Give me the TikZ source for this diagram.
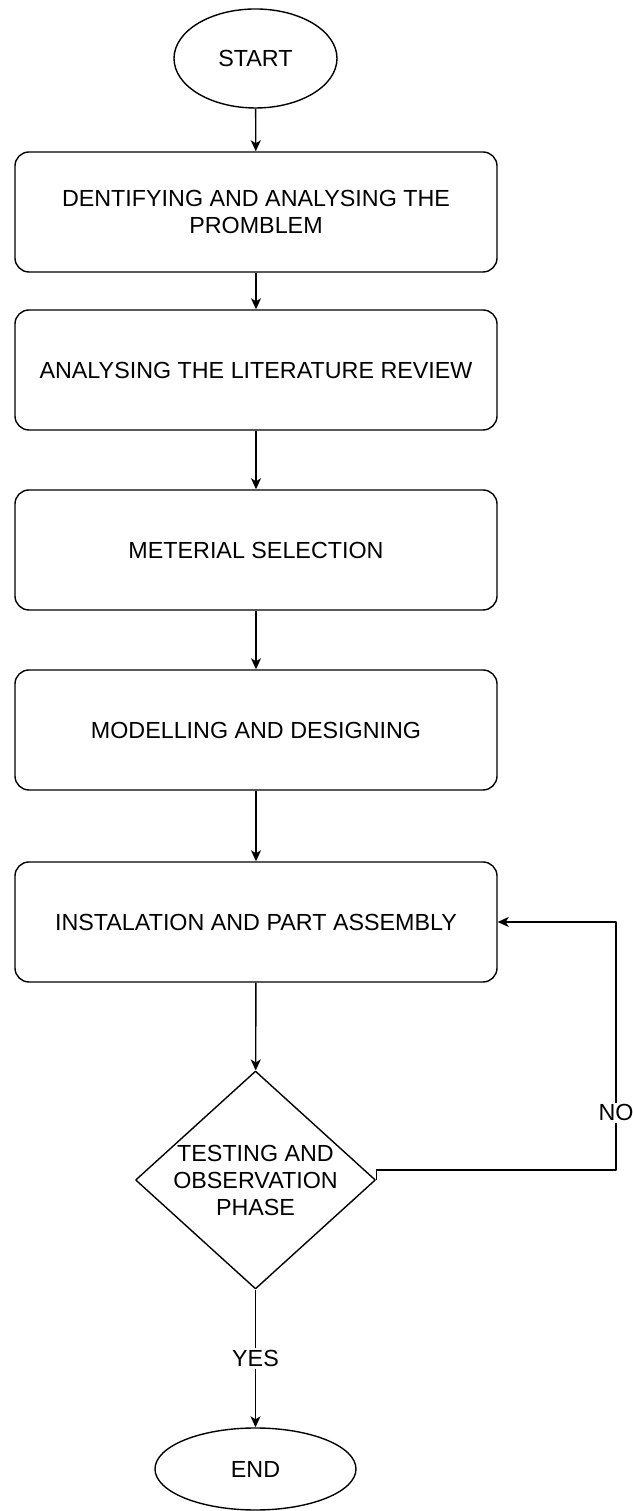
\documentclass[tikz,border=0pt]{standalone}
\usepackage{fontspec}
\setmainfont{Liberation Sans}
\usetikzlibrary{shapes.geometric,arrows.meta}

\begin{document}
\begin{tikzpicture}[>={Stealth[length=11bp,width=10bp,inset=3bp]},line join=bevel,line width=1.4bp,
  every node/.style={font=\fontsize{23.3bp}{27bp}\selectfont},
  terminal/.style={draw,ellipse,inner sep=0pt},
  stepbox/.style={draw,rounded corners=14bp,minimum width=482bp,minimum height=120bp,align=center,inner sep=0pt},
  decision/.style={draw,diamond,minimum width=240bp,minimum height=218bp,inner sep=0pt},
  edgelabel/.style={fill=white,inner sep=2bp},]
%%
\useasboundingbox (0bp,0bp) rectangle (633bp,1511bp);
\node (node_0) at (255.5bp,1452.5bp) [terminal,minimum width=163bp,minimum height=99bp] {START};
  \node (node_1) at (256bp,1299bp) [stepbox] {DENTIFYING AND ANALYSING THE\\PROMBLEM};
  \node (node_2) at (256bp,1141bp) [stepbox] {ANALYSING THE LITERATURE REVIEW};
  \node (node_3) at (256bp,961bp) [stepbox] {METERIAL SELECTION};
  \node (node_4) at (256bp,781bp) [stepbox] {MODELLING AND DESIGNING};
  \node (node_5) at (256bp,589bp) [stepbox] {INSTALATION AND PART ASSEMBLY};
  \node (node_6) at (255.5bp,331bp) [decision,label={[align=center]center:TESTING AND\\OBSERVATION\\PHASE}] {};
  \node (node_7) at (255.5bp,42bp) [terminal,minimum width=201bp,minimum height=82bp] {END};
%
\draw [->] (node_0) -- (node_1);
  \draw [->] (node_1) -- (node_2);
  \draw [->] (node_2) -- (node_3);
  \draw [->] (node_3) -- (node_4);
  \draw [->] (node_4) -- (node_5);
  \draw [->] (node_5) -- (node_6);
  \draw [->] (node_6) -- node[edgelabel] {YES} (node_7);
%
\coordinate (no_bend) at (616bp,341bp);
  \draw [->] (node_6.east) |- (no_bend) -- node[edgelabel,pos=0.23] {NO} (no_bend |- node_5.east) -- (node_5.east);
%
\end{tikzpicture}
\end{document}
